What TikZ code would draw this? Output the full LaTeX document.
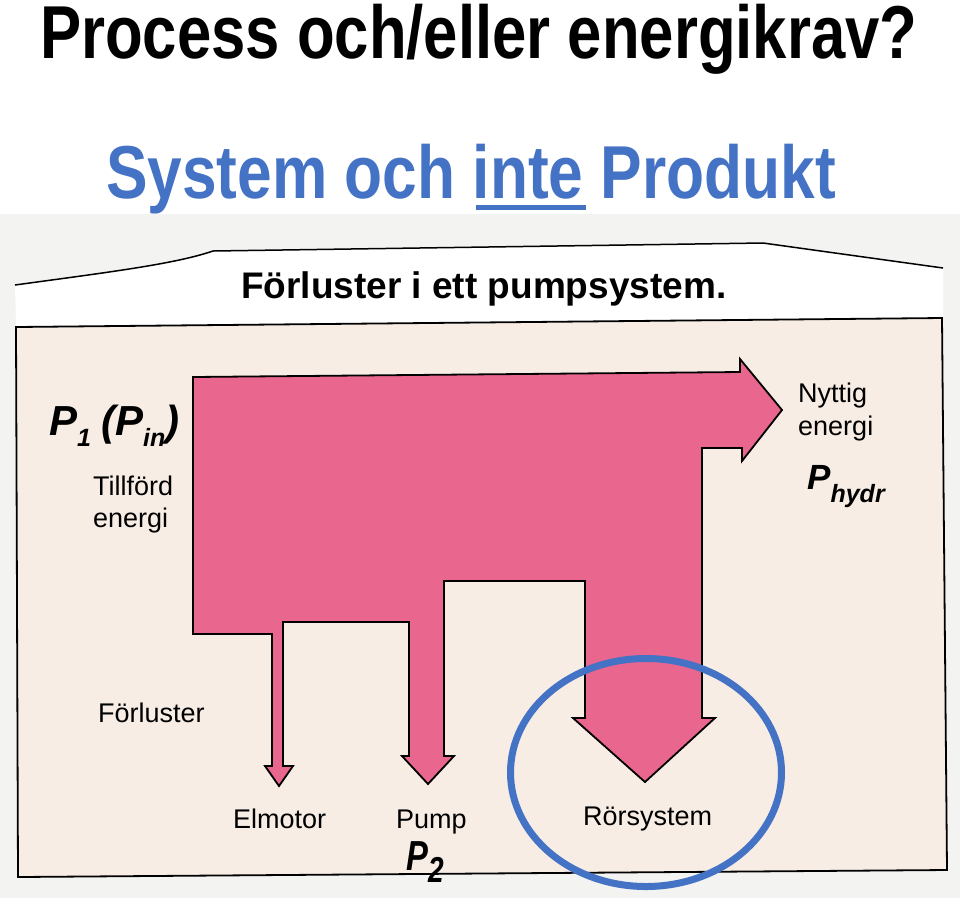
\documentclass[tikz,border=0pt]{standalone}
\usepackage{fontspec}
\setmainfont{Liberation Sans}
\definecolor{pinkfill}{RGB}{233,102,143}
\definecolor{paper}{RGB}{247,237,229}
\definecolor{scan}{RGB}{243,243,241}
\definecolor{titleblue}{RGB}{68,114,196}
\newcommand{\fsz}[1]{\fontsize{#1}{#1}\selectfont}
\newcommand{\lowsub}[3]{\raisebox{-#1pt}{\fsz{#2}#3}}
\begin{document}
\begin{tikzpicture}[x=1pt,y=-1pt,
  lbl/.style={anchor=base west, inner sep=0pt, font=\fsz{27}},
  bigtitle/.style={anchor=base west, inner sep=0pt, font=\fsz{75}\bfseries},
  pvar/.style={anchor=base west, inner sep=0pt, font=\bfseries\itshape},
  flow/.style={fill=pinkfill, draw=black, line width=1.8pt, line join=miter},
  frameline/.style={draw=black, line width=1.8pt}]
\useasboundingbox (0,0) rectangle (960,898);
\fill[white] (0,0) rectangle (960,898);
% scanned sheet
\fill[scan] (0,214) rectangle (960,898);
\fill[white] (15,285) .. controls (110,272) and (175,264) .. (213,251) -- (763,243) -- (943,268) -- (943,318) -- (16,327) -- cycle;
\draw[line width=1.5pt] (15,285) .. controls (110,272) and (175,264) .. (213,251) -- (763,243) -- (943,268);
\filldraw[fill=paper, frameline] (16,327) -- (942,318) -- (947,870) -- (18,877) -- cycle;
% pink energy flow
\path[flow] (193,377) -- (740,372) -- (740,359) -- (782,410) -- (742,461) -- (742,448)
  -- (702,448) -- (702,718) -- (715,718) -- (645,782) -- (573,718) -- (585,718)
  -- (585,581) -- (444,581) -- (444,756) -- (454,756) -- (428,784) -- (402,756)
  -- (409,756) -- (409,622) -- (283,622) -- (283,766) -- (293,766) -- (279,786)
  -- (265,766) -- (272,766) -- (272,634) -- (193,634) -- cycle;
% titles
\node[bigtitle] (t1) at (40,58) {\scalebox{0.822}[1]{Process och/eller energikrav?}};
\node[bigtitle, text=titleblue] (t2) at (106,198) {\scalebox{0.83}[1]{System och inte Produkt}};
\fill[titleblue] (476,205) rectangle (586,210);
\node[anchor=base west, inner sep=0pt, font=\fsz{37}\bfseries] (head) at (241,298) {Förluster i ett pumpsystem.};
% labels
\node[lbl] (till1) at (93,495) {Tillförd};
\node[lbl] (till2) at (93,527) {energi};
\node[lbl] (nyt1) at (798,402) {Nyttig};
\node[lbl] (nyt2) at (798,435) {energi};
\node[lbl] (forl) at (98,722) {Förluster};
\node[lbl] (elm) at (233,828) {Elmotor};
\node[lbl] (pump) at (396,828) {Pump};
\node[lbl] (ror) at (583,825) {Rörsystem};
% power symbols
\node[pvar, font=\fsz{42}\bfseries\itshape] (p1) at (49,435)
  {P\lowsub{11}{25}{1}\hspace{10pt}(P\lowsub{11}{25}{in})};
\node[pvar, font=\fsz{35}\bfseries\itshape] (ph) at (807,489)
  {P\lowsub{13}{25}{hydr}};
\node[pvar, font=\fsz{42}\bfseries\itshape] (p2) at (406,870)
  {\scalebox{0.78}[1]{P\lowsub{12}{36}{2}}};
% highlight ellipse
\draw[titleblue, line width=7pt] (646,772.5) ellipse [x radius=135.5pt, y radius=114pt];
\end{tikzpicture}
\end{document}
